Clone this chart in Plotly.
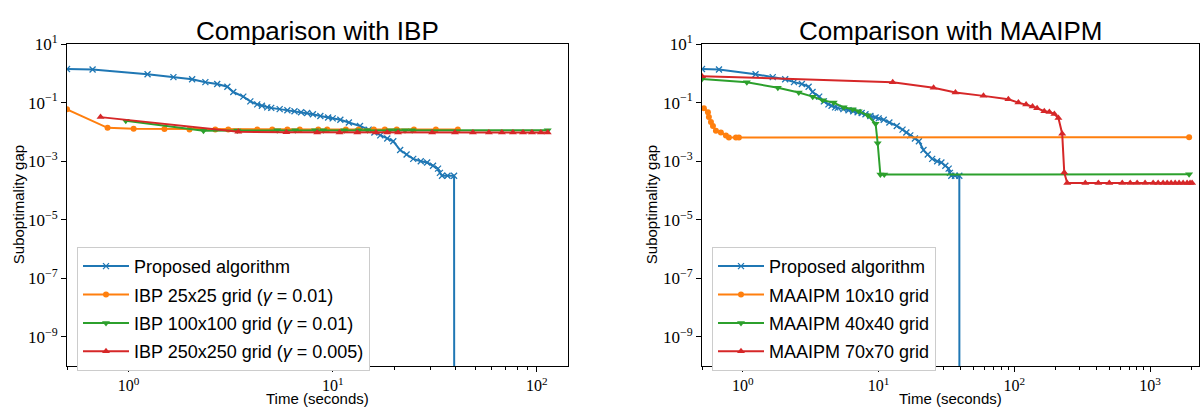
import math
import plotly.graph_objects as go

# ---------------- data ----------------
# Proposed algorithm (same run shown in both panels)
prop_t = [0.5, 0.667, 1.24, 1.66, 2.05, 2.38, 2.72, 3.05, 3.26, 3.65, 3.95, 4.27, 4.5, 4.78,
          5.0, 5.5, 6.0, 6.5, 7.0, 7.5, 8.0, 8.7, 9.5, 10.0, 10.9, 12.0, 13.6, 15.0, 16.0,
          17.1, 18.5, 19.8, 21.4, 23.0, 24.8, 27.0, 29.0, 31.0, 32.8, 33.5, 34.3, 36.5,
          39.3, 39.4]
prop_gap = [1.40, 1.35, 0.93, 0.74, 0.63, 0.50, 0.43, 0.35, 0.23, 0.16, 0.11, 0.087, 0.078, 0.069,
            0.066, 0.060, 0.055, 0.051, 0.047, 0.044, 0.040, 0.035, 0.031, 0.029, 0.026, 0.021,
            0.016, 0.012, 0.0095, 0.0076, 0.006, 0.0048, 0.0024, 0.0017, 0.0012, 0.001, 9e-4,
            7e-4, 5.6e-4, 4e-4, 3.2e-4, 3.2e-4, 3.2e-4, 1e-16]

# IBP runs
ibp25_t = [0.5, 0.79, 1.06, 1.5, 1.99, 2.66, 3.08, 4.27, 5.06, 6.0, 6.9, 8.5, 9.4, 11.6,
           13.4, 15.9, 18.0, 20.6, 25.0, 32.0, 41.0]
ibp25_gap = [0.059, 0.0138, 0.0129, 0.0127, 0.0122, 0.012, 0.012, 0.012, 0.012, 0.012, 0.012,
             0.012, 0.012, 0.012, 0.012, 0.012, 0.012, 0.012, 0.012, 0.012, 0.012]

ibp100_t = [0.97, 2.33, 3.41, 5.35, 6.56, 8.2, 9.0, 11.4, 13.4, 14.8, 19.0, 20.6, 22.6, 24.5, 113]
ibp100_gap = [0.024, 0.011, 0.0112, 0.0113, 0.0113, 0.0113, 0.0113, 0.0114, 0.0114, 0.0114,
              0.0114, 0.0114, 0.0114, 0.0114, 0.0115]

ibp250_t = [0.73, 3.45, 5.93, 8.4, 10.8, 13.2, 16.3, 18.5, 20.9, 30.7, 39.7, 48.6, 58.2, 67.4,
            76.3, 85.5, 94.6, 104.6, 113]
ibp250_gap = [0.032, 0.0102, 0.0097, 0.0096, 0.0096, 0.0095, 0.0095, 0.0095, 0.0095, 0.0095,
              0.0095, 0.0095, 0.0095, 0.0095, 0.0095, 0.0095, 0.0095, 0.0095, 0.0095]

# MAAIPM runs
m10_t = [0.516, 0.553, 0.562, 0.582, 0.602, 0.633, 0.689, 0.75, 0.789, 0.889, 0.935, 1936]
m10_gap = [0.064, 0.047, 0.032, 0.022, 0.016, 0.011, 0.0095, 0.0076, 0.0065, 0.0065, 0.0065, 0.0066]

m40_t = [0.5, 1.07, 1.81, 2.58, 3.27, 3.87, 4.67, 5.53, 6.44, 7.13, 8.3, 9.5, 9.84, 10.3, 11.0, 1936]
m40_gap = [0.64, 0.50, 0.32, 0.22, 0.16, 0.12, 0.10, 0.069, 0.059, 0.051, 0.037, 0.019, 0.0041,
           3.5e-4, 3.5e-4, 3.6e-4]

m70_t = [0.5, 12.7, 25.4, 36.8, 59.2, 90.3, 107, 122, 136, 147, 166, 181, 197, 211, 225, 233,
         245, 333, 415, 500, 623, 713, 802, 918, 1052, 1145, 1246, 1334, 1427, 1528, 1634,
         1749, 1871, 1968, 2037]
m70_gap = [0.80, 0.50, 0.32, 0.22, 0.17, 0.13, 0.10, 0.087, 0.074, 0.064, 0.051, 0.048, 0.041,
           0.030, 0.0087, 4.1e-4, 1.8e-4, 1.8e-4, 1.8e-4, 1.8e-4, 1.8e-4, 1.8e-4, 1.8e-4,
           1.8e-4, 1.8e-4, 1.8e-4, 1.8e-4, 1.8e-4, 1.8e-4, 1.8e-4, 1.8e-4, 1.8e-4, 1.8e-4,
           1.8e-4, 1.8e-4]

# labels
titles = ["Comparison with IBP", "Comparison with MAAIPM"]
left_names = ["Proposed algorithm", "IBP 25x25 grid (<i>γ</i> = 0.01)",
              "IBP 100x100 grid (<i>γ</i> = 0.01)", "IBP 250x250 grid (<i>γ</i> = 0.005)"]
right_names = ["Proposed algorithm", "MAAIPM 10x10 grid", "MAAIPM 40x40 grid", "MAAIPM 70x70 grid"]
y_tickvals = [1e1, 1e-1, 1e-3, 1e-5, 1e-7, 1e-9]
y_ticktext = ["10<sup>1</sup>", "10<sup>−1</sup>", "10<sup>−3</sup>", "10<sup>−5</sup>",
              "10<sup>−7</sup>", "10<sup>−9</sup>"]
x_tickvals_left = [1, 10, 100]
x_ticktext_left = ["10<sup>0</sup>", "10<sup>1</sup>", "10<sup>2</sup>"]
x_tickvals_right = [1, 10, 100, 1000]
x_ticktext_right = ["10<sup>0</sup>", "10<sup>1</sup>", "10<sup>2</sup>", "10<sup>3</sup>"]

# ---------------- styling ----------------
BLUE, ORANGE, GREEN, RED = "#1f77b4", "#ff7f0e", "#2ca02c", "#d62728"
W, H = 1201, 409
SANS = "Liberation Sans"
SERIF = "Liberation Serif"

L1, R1 = 67, 568
L2, R2 = 702, 1199
TOP, BOT = 33, 365


def px_x(p):
    return p / W


def px_y(p):
    return 1 - p / H


fig = go.Figure()


def add(x, y, name, color, symbol, msize, xa, ya, legend, group):
    marker = dict(symbol=symbol, size=msize, color=color)
    if symbol == "x-thin":
        marker["line"] = dict(color=color, width=1.3)
    fig.add_trace(go.Scatter(x=x, y=y, name=name, mode="lines+markers",
                             line=dict(color=color, width=2), marker=marker,
                             xaxis=xa, yaxis=ya, legend=legend, legendgroup=group))


add(prop_t, prop_gap, left_names[0], BLUE, "x-thin", 6, "x", "y", "legend", "a")
add(ibp25_t, ibp25_gap, left_names[1], ORANGE, "circle", 6, "x", "y", "legend", "b")
add(ibp100_t, ibp100_gap, left_names[2], GREEN, "triangle-down", 7, "x", "y", "legend", "c")
add(ibp250_t, ibp250_gap, left_names[3], RED, "triangle-up", 7, "x", "y", "legend", "d")

add(prop_t, prop_gap, right_names[0], BLUE, "x-thin", 6, "x2", "y2", "legend2", "e")
add(m10_t, m10_gap, right_names[1], ORANGE, "circle", 6, "x2", "y2", "legend2", "f")
add(m40_t, m40_gap, right_names[2], GREEN, "triangle-down", 7, "x2", "y2", "legend2", "g")
add(m70_t, m70_gap, right_names[3], RED, "triangle-up", 7, "x2", "y2", "legend2", "h")

tickfont = dict(family=SERIF, size=16, color="black")
minor_ticks = [k * 10 ** e for e in (-1, 0, 1, 2, 3) for k in range(2, 10)]

common_x = dict(type="log", showgrid=False, zeroline=False, showline=True, mirror=True,
                linecolor="black", linewidth=1, ticks="outside", ticklen=5, tickwidth=1,
                tickcolor="black", tickmode="array", tickfont=tickfont,
                minor=dict(tickmode="array", tickvals=minor_ticks, ticks="outside", ticklen=3,
                           tickwidth=0.8, tickcolor="black", showgrid=False))
common_y = dict(type="log", showgrid=False, zeroline=False, showline=True, mirror=True,
                linecolor="black", linewidth=1, ticks="outside", ticklen=5, tickwidth=1,
                tickcolor="black", tickmode="array", tickvals=y_tickvals, ticktext=y_ticktext,
                tickfont=dict(tickfont, size=17), range=[-10, 1])

legend_common = dict(xanchor="left", yanchor="top", bgcolor="white", bordercolor="#cccccc",
                     borderwidth=1, font=dict(family=SANS, size=18, color="black"),
                     tracegroupgap=2, itemwidth=46)

fig.update_layout(
    width=W, height=H, margin=dict(l=0, r=0, t=0, b=0),
    paper_bgcolor="white", plot_bgcolor="white",
    xaxis=dict(common_x, domain=[px_x(L1), px_x(R1)], anchor="y",
               range=[math.log10(0.5), math.log10(142)],
               tickvals=x_tickvals_left, ticktext=x_ticktext_left),
    yaxis=dict(common_y, domain=[px_y(BOT), px_y(TOP)], anchor="x"),
    xaxis2=dict(common_x, domain=[px_x(L2), px_x(R2)], anchor="y2",
                range=[math.log10(0.5), math.log10(2290)],
                tickvals=x_tickvals_right, ticktext=x_ticktext_right),
    yaxis2=dict(common_y, domain=[px_y(BOT), px_y(TOP)], anchor="x2"),
    showlegend=True,
    legend=dict(legend_common, x=px_x(77), y=px_y(242)),
    legend2=dict(legend_common, x=px_x(712), y=px_y(242)),
)

ann = []
for i, (l, r) in enumerate([(L1, R1), (L2, R2)]):
    ann.append(dict(text=titles[i], x=px_x((l + r) / 2), y=px_y(37), xref="paper", yref="paper",
                    xanchor="center", yanchor="bottom", showarrow=False,
                    font=dict(family=SANS, size=26, color="black")))
    ann.append(dict(text="Time (seconds)", x=px_x((l + r) / 2), y=0, xref="paper",
                    yref="paper", xanchor="center", yanchor="bottom", showarrow=False,
                    font=dict(family=SANS, size=15, color="black")))
for xc in (18, 651):
    ann.append(dict(text="Suboptimality gap", x=px_x(xc), y=px_y((TOP + BOT) / 2),
                    xref="paper", yref="paper", xanchor="center", yanchor="middle",
                    textangle=-90, showarrow=False,
                    font=dict(family=SANS, size=15, color="black")))
fig.update_layout(annotations=ann)

fig.write_html("out.html", config={"displayModeBar": False},
               post_script="document.body.style.margin='0';"
                           "document.body.style.overflow='hidden';")
